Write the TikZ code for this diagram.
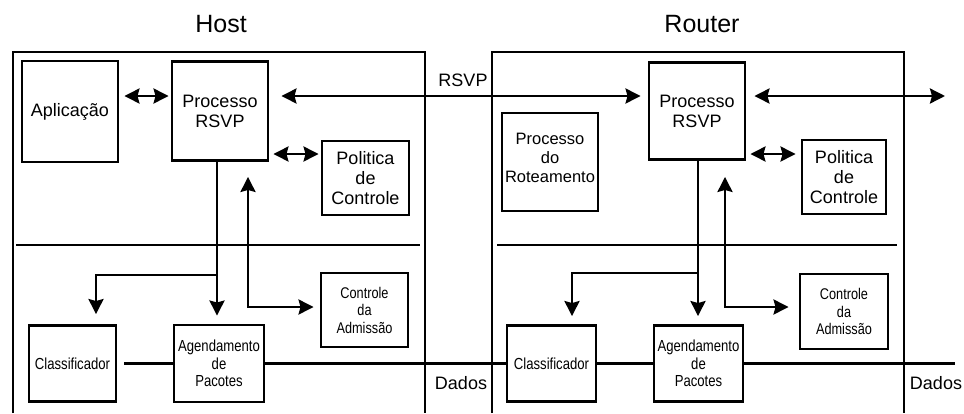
\documentclass[tikz,border=0pt]{standalone}
\usepackage{fontspec}
\setmainfont{Liberation Sans}
\newfontfamily\narrowsans[FakeStretch=0.82]{Liberation Sans}
\usetikzlibrary{arrows.meta}
\begin{document}
\begin{tikzpicture}[x=1pt,y=-1pt,
  box/.style={draw,line width=2.9pt,inner sep=0pt,align=center},
  med/.style={font=\fontsize{18}{20}\selectfont},
  rot/.style={font=\fontsize{16.5}{19}\selectfont},
  sml/.style={font=\narrowsans\fontsize{16}{17.5}\selectfont},
  tiny/.style={font=\narrowsans\fontsize{15.5}{17.5}\selectfont},
  ttl/.style={font=\fontsize{25}{28}\selectfont},
  con/.style={line width=2.7pt},
  tip/.tip={Stealth[length=15pt,width=15pt,inset=2pt]},
  arr/.style={con,-tip},
  dbl/.style={con,tip-tip},
  wall/.style={line width=2.6pt},
  sep/.style={line width=2.3pt},
]
\useasboundingbox (0,0) rectangle (964,413);

% enclosures
\draw[wall] (13,413) -- (13,52) -- (425,52) -- (425,413);
\draw[wall] (492,413) -- (492,52) -- (904,52) -- (904,413);
\draw[sep] (16,245) -- (420,245);
\draw[sep] (497,245) -- (897,245);

% titles and labels
\node[ttl] (thost) at (221,24) {Host};
\node[ttl] (trouter) at (702,24) {Router};
\node[med] (lrsvp) at (463,80) {RSVP};
\node[med] (ldh) at (461,383) {Dados};
\node[med] (ldr) at (936,383) {Dados};

% host modules
\node[box,med,minimum width=96pt,minimum height=101pt] (app) at (70,111.5) {Aplicação};
\node[box,med,minimum width=96pt,minimum height=99pt] (rsvpH) at (220,111) {Processo\\RSVP};
\node[box,med,minimum width=87pt,minimum height=74pt] (polH) at (365.5,178) {Politica\\de\\Controle};
\node[box,tiny,minimum width=87pt,minimum height=74pt] (admH) at (364.5,310) {Controle\\da\\Admissão};
\node[box,sml,minimum width=87pt,minimum height=76pt] (clsH) at (72.5,363.5) {Classificador};
\node[box,sml,minimum width=90pt,minimum height=77pt] (agH) at (219,363.5) {Agendamento\\de\\Pacotes};

% router modules
\node[box,rot,minimum width=96pt,minimum height=98pt,text depth=8pt] (rotR) at (550,162) {Processo\\do\\Roteamento};
\node[box,med,minimum width=96pt,minimum height=97pt] (rsvpR) at (697,111) {Processo\\RSVP};
\node[box,med,minimum width=84pt,minimum height=74pt] (polR) at (844,177) {Politica\\de\\Controle};
\node[box,tiny,minimum width=88pt,minimum height=75pt] (admR) at (844,311.5) {Controle\\da\\Admissão};
\node[box,sml,minimum width=89pt,minimum height=76pt] (clsR) at (551.5,363.5) {Classificador};
\node[box,sml,minimum width=89pt,minimum height=76pt] (agR) at (698.5,363.5) {Agendamento\\de\\Pacotes};

\coordinate (outR) at (945,96);
\coordinate (outD) at (955,363.5);

% control signalling
\draw[dbl] ([shift={(5,-15.5)}]app.east) -- ([shift={(-2,-15)}]rsvpH.west);
\draw[dbl] ([shift={(12,-15)}]rsvpH.east) -- ([shift={(-7,-15)}]rsvpR.west);
\draw[dbl] ([shift={(8,-15)}]rsvpR.east) -- (outR);
\draw[dbl] ([shift={(4,43)}]rsvpH.east) -- ([shift={(-2,-24)}]polH.west);
\draw[dbl] ([shift={(4,43)}]rsvpR.east) -- ([shift={(-5,-23)}]polR.west);

% host internal paths
\coordinate (hb) at ([shift={(-3,164)}]rsvpH.center);
\draw[arr] ([xshift=-3]rsvpH.south) -- ([shift={(-2,-8)}]agH.north);
\draw[arr] (hb) -| ([shift={(23.5,-10)}]clsH.north);
\draw[dbl] ([shift={(28,15)}]rsvpH.south) |- ([shift={(-6,-3)}]admH.west);

% router internal paths
\coordinate (rb) at ([shift={(1,162)}]rsvpR.center);
\draw[arr] ([xshift=1]rsvpR.south) -- ([shift={(-0.5,-8)}]agR.north);
\draw[arr] (rb) -| ([shift={(20.5,-8)}]clsR.north);
\draw[dbl] ([shift={(28,16)}]rsvpR.south) |- ([shift={(-10,-4.5)}]admR.west);

% data path
\draw[con] ([xshift=7]clsH.east) -- (agH.west);
\draw[con] (agH.east) -- (clsR.west);
\draw[con] (clsR.east) -- (agR.west);
\draw[con] (agR.east) -- (outD);
\end{tikzpicture}
\end{document}
